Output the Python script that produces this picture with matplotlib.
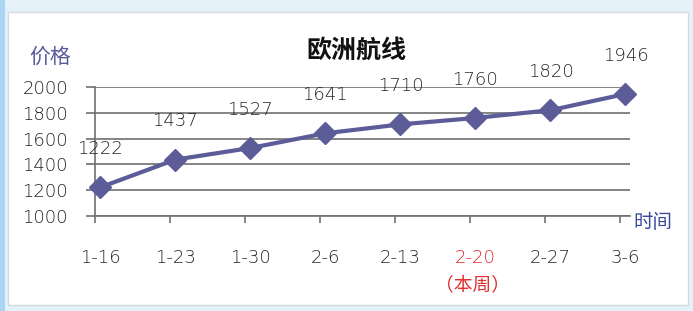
import matplotlib
matplotlib.use("Agg")
import matplotlib.pyplot as plt
from matplotlib.patches import Rectangle

plt.rcParams['font.family'] = ['DejaVu Sans', 'Noto Sans CJK SC']

categories = ["1-16", "1-23", "1-30", "2-6", "2-13", "2-20", "2-27", "3-6"]
prices = [1222, 1437, 1527, 1641, 1710, 1760, 1820, 1946]
yticks = [1000, 1200, 1400, 1600, 1800, 2000]
title = "欧洲航线"
ylabel = "价格"
xlabel = "时间"
current_week = "2-20"
current_note = "（本周）"

W, H = 693, 311
fig = plt.figure(figsize=(W / 100, H / 100), dpi=100)
fig.patch.set_facecolor("#e4f1f9")
fig.patches.append(Rectangle((0, 0), 5 / W, 1, transform=fig.transFigure,
                             facecolor="#a9d6f2", edgecolor="none", zorder=-6))
fig.patches.append(Rectangle((8 / W, 6 / H), 680 / W, 293 / H, transform=fig.transFigure,
                             facecolor="white", edgecolor="#d5dade", lw=1, zorder=-5))

ax = fig.add_axes([95 / W, 1 - 216 / H, 535 / W, 129 / H], zorder=2)
ax.set_facecolor("none")
x = list(range(len(categories)))
ax.plot(x, prices, color="#5c5c98", lw=3, marker="D", markersize=11,
        markerfacecolor="#5c5c98", markeredgecolor="#5c5c98", zorder=3, clip_on=False)
for xi, v in zip(x, prices):
    ax.annotate(str(v), (xi, v), xytext=(0, 27.5), textcoords="offset points",
                ha="center", va="center", fontsize=13, color="#262626",
                fontweight="light", annotation_clip=False)

ax.set_xlim(-0.07, 7.06)
ax.set_ylim(1000, 2000)
ax.set_yticks(yticks)
ax.set_yticklabels([str(t) for t in yticks], fontsize=13, color="#222222",
                   fontweight="light")
ax.yaxis.grid(True, color="#707070", lw=1.2)
ax.set_axisbelow(True)
ax.tick_params(axis="y", length=6.5, width=1.2, color="#707070", pad=13)
# labels centred on the points, tick marks just left of them
ax.set_xticks(x)
ax.set_xticklabels(categories, fontsize=13, color="#262626", fontweight="light")
ax.set_xticks([i - 0.07 for i in x], minor=True)
ax.tick_params(axis="x", which="major", length=0, pad=24)
ax.tick_params(axis="x", which="minor", length=5, width=1.2, color="#707070",
               direction="out")
for lbl in ax.get_xticklabels():
    if lbl.get_text() == current_week:
        lbl.set_color("#e02828")
for s in ["top", "right"]:
    ax.spines[s].set_visible(False)
for s in ["left", "bottom"]:
    ax.spines[s].set_color("#707070")
    ax.spines[s].set_linewidth(1.2)

fig.text(472 / W, 1 - 286 / H, current_note, ha="center", va="center",
         fontsize=13.5, color="#e03030", family=["Noto Sans CJK SC"])
fig.text(356 / W, 1 - 51 / H, title, ha="center", va="center", fontsize=18,
         fontweight="heavy", color="#111111", family=["Noto Sans CJK SC"])
fig.text(50 / W, 1 - 57 / H, ylabel, ha="center", va="center", fontsize=15,
         color="#5a5a9a", family=["Noto Sans CJK SC"])
fig.text(653 / W, 1 - 222 / H, xlabel, ha="center", va="center", fontsize=14,
         color="#3a4a9a", family=["Noto Sans CJK SC"])

fig.savefig("out.png", dpi=100, facecolor=fig.get_facecolor())
